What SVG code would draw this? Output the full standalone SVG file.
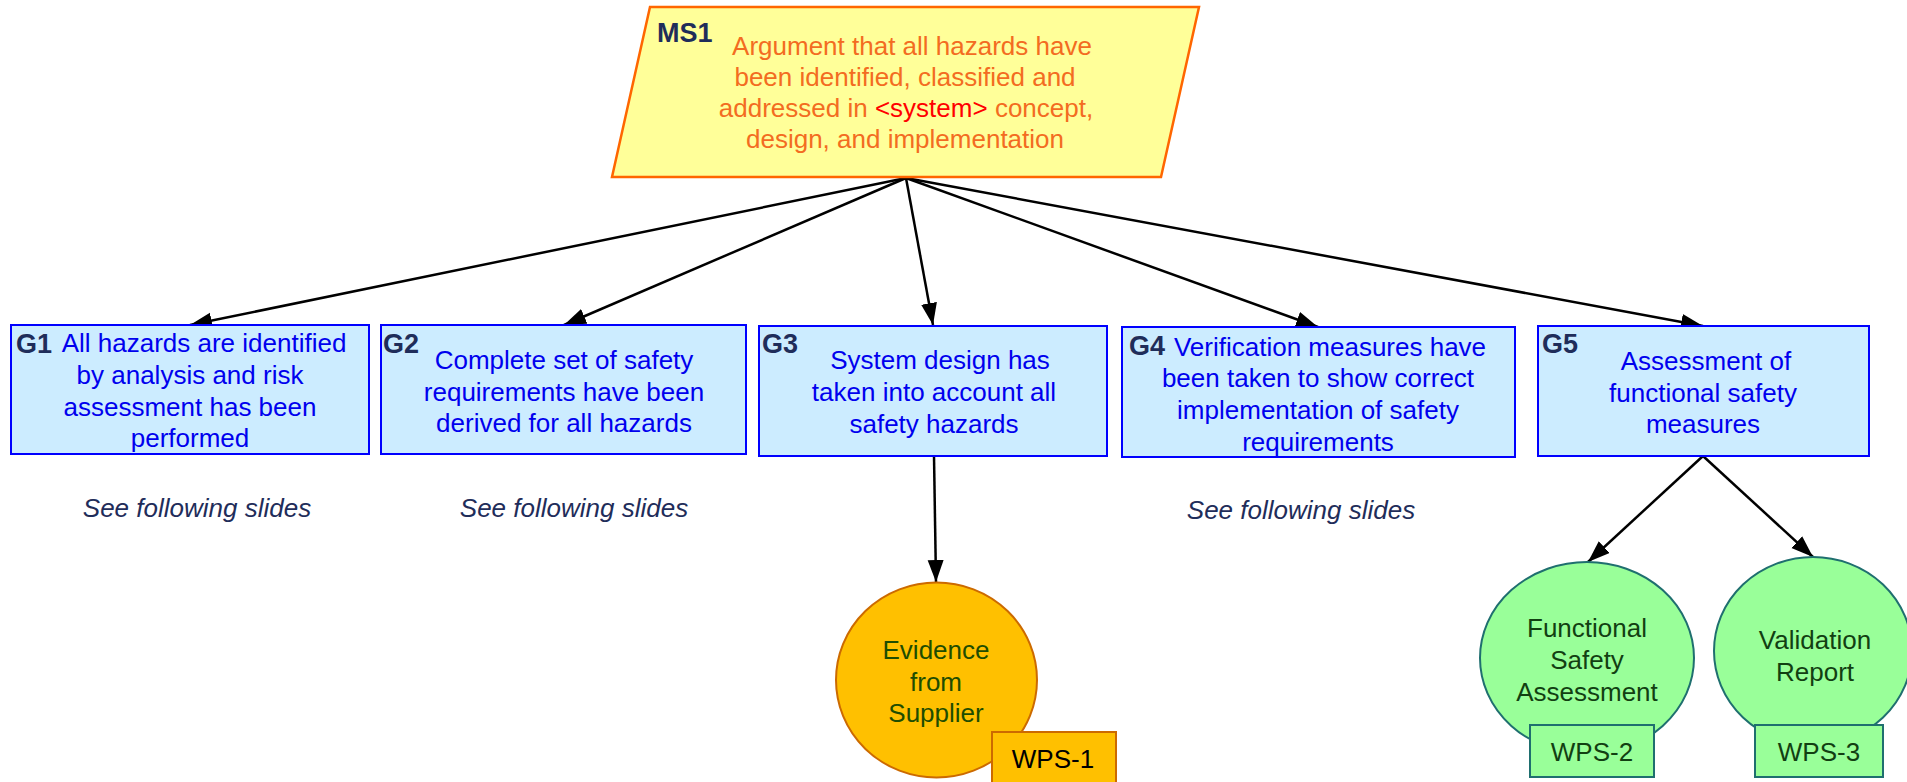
<svg xmlns="http://www.w3.org/2000/svg" width="1907" height="782" viewBox="0 0 1907 782">
<defs>
<marker id="arr" markerUnits="userSpaceOnUse" markerWidth="24" markerHeight="18" refX="22" refY="8" orient="auto">
<path d="M0,0 L22,8 L0,16 z" fill="#000"/>
</marker>
<style>
text{font-family:"Liberation Sans",Arial,sans-serif;font-size:26px}
.lbl{font-weight:bold;fill:#1F2D5A;font-size:27px}
.gbox{fill:#CCECFF;stroke:#0000FF;stroke-width:2}
.gt{fill:#0000EE;text-anchor:middle}
.ms{fill:#F36C21;text-anchor:middle}
.see{fill:#1F2D5A;font-style:italic;text-anchor:middle}
.conn{stroke:#000;stroke-width:2.5;fill:none;marker-end:url(#arr)}
.gsh{fill:#99FF99;stroke:#1F6F6F;stroke-width:2}
.gtx{fill:#123F12;text-anchor:middle}
.osh{fill:#FFC000;stroke:#CC6A00;stroke-width:2}
</style>
</defs>
<rect width="1907" height="782" fill="#fff"/>

<g id="connectors">
<path class="conn" d="M906,178 L190,325"/>
<path class="conn" d="M906,178 L564,325"/>
<path class="conn" d="M906,178 L933,325"/>
<path class="conn" d="M906,178 L1318,327"/>
<path class="conn" d="M906,178 L1703,326"/>
<path class="conn" d="M934,456 L936,582"/>
<path class="conn" d="M1703,456 L1588,562"/>
<path class="conn" d="M1703,456 L1813,557"/>
</g>

<g id="MS1">
<polygon points="650,7 1199,7 1161,177 612,177" fill="#FFFF99" stroke="#FF6600" stroke-width="2.5"/>
<text class="lbl" x="657" y="42">MS1</text>
<text class="ms" x="912" y="55">Argument that all hazards have</text>
<text class="ms" x="905" y="86">been identified, classified and</text>
<text class="ms" x="906" y="117">addressed in <tspan fill="#FF0000">&lt;system&gt;</tspan> concept,</text>
<text class="ms" x="905" y="148">design, and implementation</text>
</g>

<g id="G1">
<rect class="gbox" x="11" y="325" width="358" height="129"/>
<text class="lbl" x="16" y="353">G1</text>
<text class="gt" x="204" y="352">All hazards are identified</text>
<text class="gt" x="190" y="384">by analysis and risk</text>
<text class="gt" x="190" y="416">assessment has been</text>
<text class="gt" x="190" y="447">performed</text>
</g>

<g id="G2">
<rect class="gbox" x="381" y="325" width="365" height="129"/>
<text class="lbl" x="383" y="353">G2</text>
<text class="gt" x="564" y="369">Complete set of safety</text>
<text class="gt" x="564" y="401">requirements have been</text>
<text class="gt" x="564" y="432">derived for all hazards</text>
</g>

<g id="G3">
<rect class="gbox" x="759" y="326" width="348" height="130"/>
<text class="lbl" x="762" y="353">G3</text>
<text class="gt" x="940" y="369">System design has</text>
<text class="gt" x="934" y="401">taken into account all</text>
<text class="gt" x="934" y="433">safety hazards</text>
</g>

<g id="G4">
<rect class="gbox" x="1122" y="327" width="393" height="130"/>
<text class="lbl" x="1129" y="355">G4</text>
<text class="gt" x="1330" y="356">Verification measures have</text>
<text class="gt" x="1318" y="387">been taken to show correct</text>
<text class="gt" x="1318" y="419">implementation of safety</text>
<text class="gt" x="1318" y="451">requirements</text>
</g>

<g id="G5">
<rect class="gbox" x="1538" y="326" width="331" height="130"/>
<text class="lbl" x="1542" y="353">G5</text>
<text class="gt" x="1706" y="370">Assessment of</text>
<text class="gt" x="1703" y="402">functional safety</text>
<text class="gt" x="1703" y="433">measures</text>
</g>

<g id="notes">
<text class="see" x="197" y="517">See following slides</text>
<text class="see" x="574" y="517">See following slides</text>
<text class="see" x="1301" y="519">See following slides</text>
</g>

<g id="E1">
<ellipse class="osh" cx="936.5" cy="680" rx="100.5" ry="97.5"/>
<text class="gtx" x="936" y="659" fill="#1E4D00" style="fill:#1E4D00">Evidence</text>
<text class="gtx" x="936" y="691" style="fill:#1E4D00">from</text>
<text class="gtx" x="936" y="722" style="fill:#1E4D00">Supplier</text>
</g>
<g id="WPS1">
<rect class="osh" x="992" y="732" width="124" height="62"/>
<text x="1053" y="768" text-anchor="middle" fill="#000">WPS-1</text>
</g>

<g id="E2">
<ellipse class="gsh" cx="1587" cy="658" rx="107" ry="96"/>
<text class="gtx" x="1587" y="637">Functional</text>
<text class="gtx" x="1587" y="669">Safety</text>
<text class="gtx" x="1587" y="701">Assessment</text>
</g>
<g id="WPS2">
<rect class="gsh" x="1530" y="725" width="124" height="52"/>
<text class="gtx" x="1592" y="761">WPS-2</text>
</g>

<g id="E3">
<ellipse class="gsh" cx="1813" cy="651" rx="99" ry="94"/>
<text class="gtx" x="1815" y="649">Validation</text>
<text class="gtx" x="1815" y="681">Report</text>
</g>
<g id="WPS3">
<rect class="gsh" x="1755" y="725" width="128" height="52"/>
<text class="gtx" x="1819" y="761">WPS-3</text>
</g>
</svg>
